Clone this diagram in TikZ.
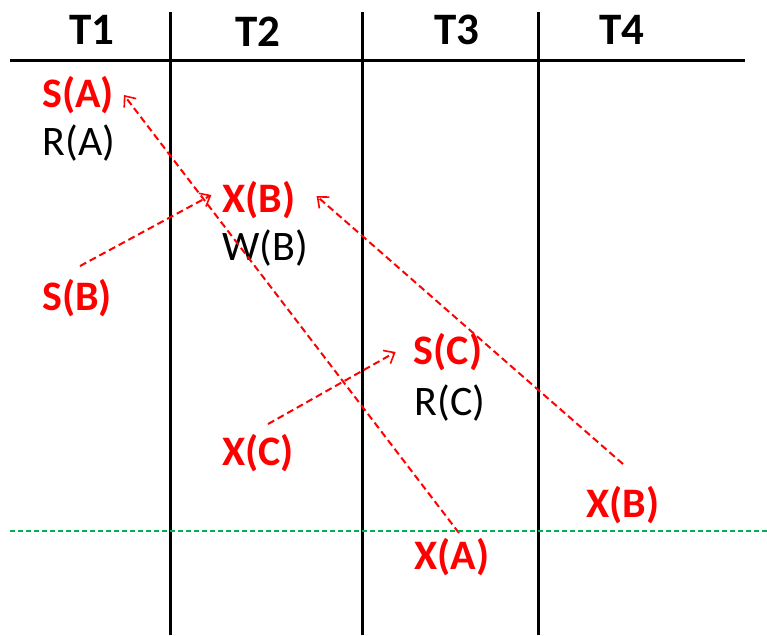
\documentclass[tikz,border=0pt]{standalone}
\usepackage{fontspec}
\setmainfont{Carlito}
\usepackage{tikz}
\usetikzlibrary{arrows.meta}
\definecolor{LockRed}{HTML}{FF0000}
\definecolor{CutGreen}{HTML}{00B050}

\begin{document}
\begin{tikzpicture}[x=1pt, y=-1pt,
  head/.style={font=\fontsize{45}{45}\selectfont\bfseries, inner sep=0pt},
  lk/.style={font=\fontsize{42}{42}\selectfont\bfseries, text=LockRed, inner sep=0pt},
  op/.style={font=\fontsize{42}{42}\selectfont, inner sep=0pt},
  rule/.style={black, line width=3pt},
  wait/.style={LockRed, dash pattern=on 7pt off 4pt, line width=2pt, -{Straight Barb[length=9pt,width=15pt,line width=1.6pt]}},
  cut/.style={CutGreen, dash pattern=on 5pt off 3pt, line width=1.3pt}]
\useasboundingbox (0,0) rectangle (767,635);

% table frame
\draw[rule] (10,60) -- (745,60);
\foreach \x in {170,362,538}{
  \draw[rule] (\x,12) -- (\x,635);
}

% headers
\node[head] (t1) at (92,30) {T1};
\node[head] (t2) at (258,32) {T2};
\node[head] (t3) at (457,30) {T3};
\node[head] (t4) at (622,30) {T4};

% schedule
\node[lk] (sA) at (78,95) {S(A)};
\node[op] (rA) at (79,143) {R(A)};
\node[lk] (xB) at (259,200) {X(B)};
\node[op] (wB) at (265,248) {W(B)};
\node[lk] (sB) at (77,298) {S(B)};
\node[lk] (sC) at (448,352) {S(C)};
\node[op] (rC) at (450,403) {R(C)};
\node[lk] (xC) at (258,453) {X(C)};
\node[lk] (xB4) at (623,505) {X(B)};
\node[lk] (xA) at (452,557) {X(A)};

% waits-for
\draw[wait] ([shift={(7,-5)}]xA.north) -- ([shift={(10,0)}]sA.east);
\draw[wait] ([shift={(3,-13)}]sB.north) -- ([shift={(-11,-5)}]xB.west);
\draw[wait] ([shift={(0,-22)}]xB4.north) -- ([shift={(21,-4)}]xB.east);
\draw[wait] ([shift={(10,-10)}]xC.north) -- ([shift={(-18,0)}]sC.west);

% cut
\draw[cut] (10,531) -- (767,531);
\end{tikzpicture}
\end{document}
